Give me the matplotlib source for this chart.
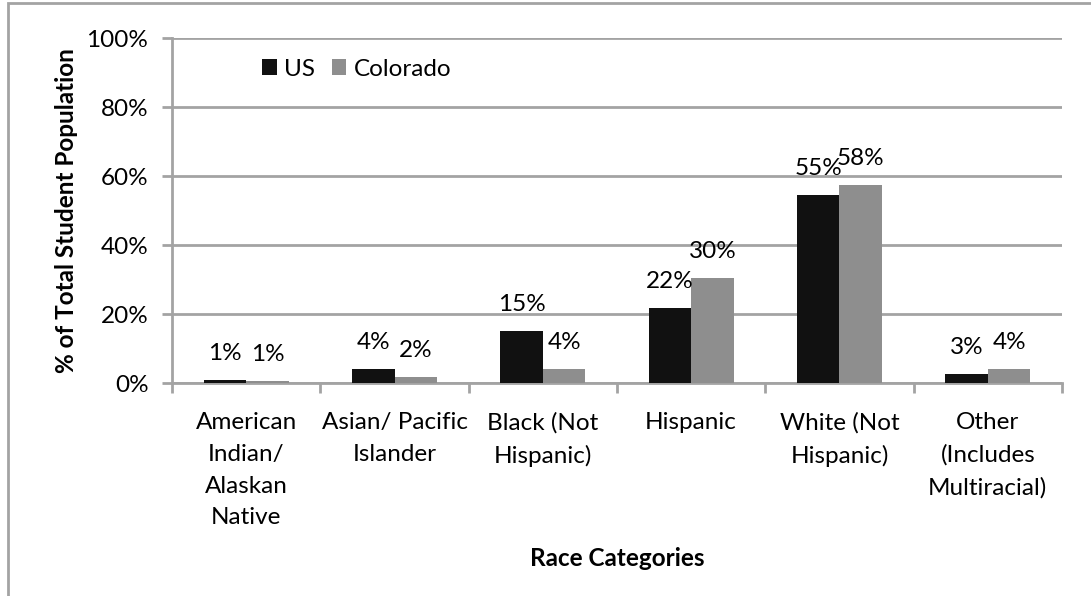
import matplotlib
matplotlib.use("Agg")
import matplotlib.pyplot as plt
from matplotlib.patches import Rectangle
import numpy as np

categories = [
    "American\nIndian/\nAlaskan\nNative",
    "Asian/ Pacific\nIslander",
    "Black (Not\nHispanic)",
    "Hispanic",
    "White (Not\nHispanic)",
    "Other\n(Includes\nMultiracial)",
]
us_pct = [1.0, 4.2, 15.2, 21.9, 54.6, 2.6]
colorado_pct = [0.7, 1.9, 4.2, 30.4, 57.6, 4.1]
y_ticks = [0, 20, 40, 60, 80, 100]

W, H = 1091, 596
plt.rcParams["font.family"] = ["Lato", "DejaVu Sans"]
fig = plt.figure(figsize=(W / 100, H / 100), dpi=100)
ax = fig.add_axes([172 / W, 1 - 383.3 / H, (1062 - 172) / W, (383.3 - 38.3) / H])

grid_c = "#A3A3A3"
us_c = "#111111"
co_c = "#8E8E8E"
fs = 17.5

x = np.arange(len(categories))
bw = 0.287
b_us = ax.bar(x - bw / 2, us_pct, width=bw, color=us_c, label="US", zorder=3)
b_co = ax.bar(x + bw / 2, colorado_pct, width=bw, color=co_c, label="Colorado", zorder=3)

for bars, vals in ((b_us, us_pct), (b_co, colorado_pct)):
    for rect, v in zip(bars, vals):
        ax.annotate(f"{v:.0f}%", (rect.get_x() + rect.get_width() / 2, v),
                    xytext=(0, 14.4), textcoords="offset points",
                    ha="center", va="baseline", fontsize=fs, color="black")

ax.set_xlim(-0.5, len(categories) - 0.5)
ax.set_ylim(0, 100)
ax.set_yticks(y_ticks)
ax.set_yticklabels([f"{t}%" for t in y_ticks], fontsize=fs)
ax.yaxis.grid(True, color=grid_c, linewidth=2)
ax.set_axisbelow(True)

ax.set_xticks(np.arange(len(categories) + 1) - 0.5)
ax.set_xticklabels([])
ax.set_xticks(x, minor=True)
ax.set_xticklabels(categories, minor=True, fontsize=fs, linespacing=1.62)
ax.tick_params(axis="x", which="minor", length=0, pad=21)
ax.tick_params(axis="x", which="major", length=7, width=2, color=grid_c)
ax.tick_params(axis="y", length=7, width=2, color=grid_c, pad=10)

for s in ("top", "right"):
    ax.spines[s].set_visible(False)
for s in ("left", "bottom"):
    ax.spines[s].set_color(grid_c)
    ax.spines[s].set_linewidth(2)

ax.set_ylabel("% of Total Student Population", fontsize=fs, fontweight="bold", labelpad=6)
fig.text(617 / W, 1 - 558 / H, "Race Categories", fontsize=fs, fontweight="bold",
         ha="center", va="center")

ax.legend(loc="center left", bbox_to_anchor=(262 / W, 1 - 69 / H),
          bbox_transform=fig.transFigure, ncol=2, frameon=False, fontsize=fs,
          handlelength=0.6, handleheight=0.6, handletextpad=0.3,
          columnspacing=0.7, borderaxespad=0, borderpad=0)

fig.patches.append(Rectangle((8 / W, -0.1), 1.2, 1.1 - 3.3 / H, transform=fig.transFigure,
                             fill=False, edgecolor=grid_c, linewidth=2, clip_on=False))

fig.savefig("out.png", dpi=100, facecolor="white")
